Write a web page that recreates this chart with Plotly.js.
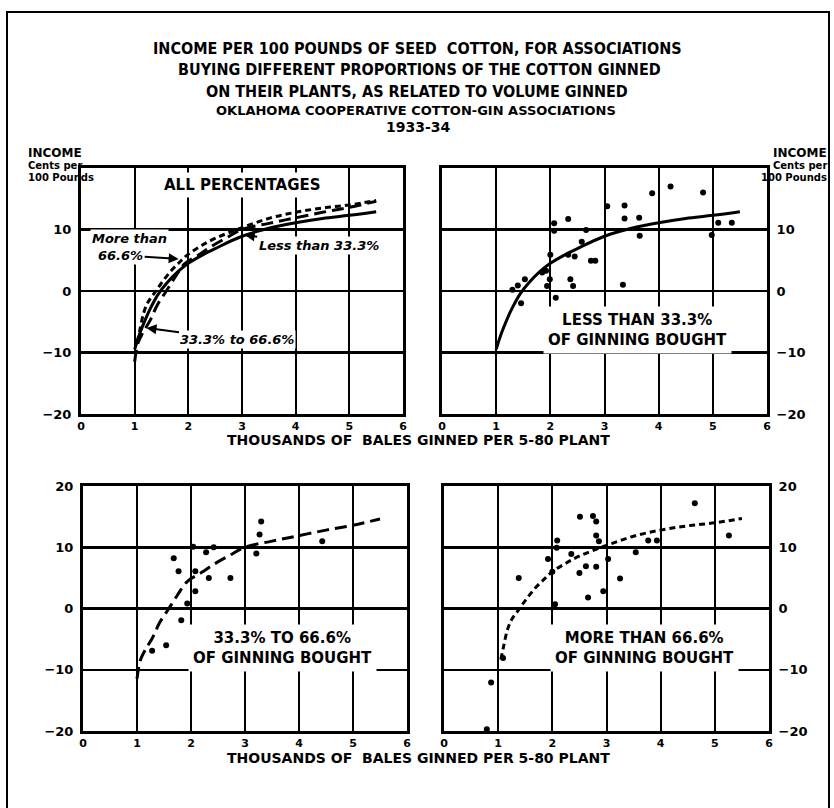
<!DOCTYPE html>
<html>
<head>
<meta charset="utf-8">
<script src="https://cdn.plot.ly/plotly-3.0.1.min.js"></script>
<style>html,body{margin:0;padding:0;background:#fff}#chart{width:834px;height:808px}</style>
</head>
<body>
<div id="chart"></div>
<script>
// ---- data ----
const xTicks = [0, 1, 2, 3, 4, 5, 6];
const yTicksTop = [-20, -10, 0, 10];
const yTicksBottom = [-20, -10, 0, 10, 20];

// Less than 33.3% of ginning bought (scatter)
const lessX = [4.22, 4.82, 3.88, 3.05, 3.37, 3.37, 3.64, 2.33, 2.07, 2.07, 2.66, 3.65, 4.98, 5.1, 5.35, 2.58, 2.0, 2.33, 2.45, 2.75, 2.83, 1.85, 1.92, 1.99, 2.37, 1.94, 2.42, 3.34, 1.40, 1.53, 1.46, 2.10, 1.3];
const lessY = [17.0, 16.0, 15.9, 13.8, 13.9, 11.8, 11.9, 11.7, 11.0, 9.8, 9.9, 9.0, 9.1, 11.1, 11.1, 8.0, 5.9, 5.9, 5.6, 4.9, 4.9, 3.0, 3.3, 1.9, 1.9, 0.8, 0.8, 1.0, 0.9, 1.9, -2.0, -1.1, 0.2];

// 33.3% to 66.6% (scatter)
const midX = [3.30, 3.27, 3.21, 4.43, 1.68, 1.77, 2.04, 2.28, 2.42, 2.08, 2.33, 2.73, 2.08, 1.93, 1.82, 1.54, 1.28];
const midY = [14.2, 12.1, 9.0, 11.0, 8.2, 6.1, 10.1, 9.2, 10.0, 6.1, 5.0, 5.0, 2.8, 0.8, -1.9, -6.0, -6.9];

// More than 66.6% (scatter)
const moreX = [4.63, 2.51, 2.75, 2.81, 2.81, 2.86, 2.09, 2.08, 2.35, 3.54, 3.77, 3.93, 5.26, 1.92, 2.0, 2.62, 2.81, 3.03, 2.50, 1.38, 3.25, 2.94, 2.66, 2.05, 1.09, 0.87, 0.79];
const moreY = [17.2, 15.0, 15.1, 14.2, 11.9, 11.0, 11.1, 9.9, 8.9, 9.2, 11.1, 11.1, 11.9, 8.1, 6.0, 6.9, 6.8, 8.1, 5.8, 5.0, 4.9, 2.8, 1.8, 0.7, -8.1, -12.1, -19.7];

// fitted curves
const lessCurveX = [1, 1.1, 1.2, 1.3, 1.44, 1.6, 1.8, 2, 2.25, 2.5, 3, 3.5, 4, 4.5, 5, 5.5];
const lessCurveY = [-9.5, -6.8, -4.6, -2.7, -0.5, 1.3, 3.1, 4.5, 5.8, 6.9, 8.9, 10.2, 11.1, 11.8, 12.3, 12.9];
const midCurveX = [1, 1.06, 1.15, 1.28, 1.42, 1.59, 1.75, 1.93, 2.2, 2.42, 2.7, 3, 3.5, 4, 4.5, 5, 5.5];
const midCurveY = [-11.5, -8.5, -6.8, -4.9, -2.3, 0, 2.2, 4.4, 5.9, 7.2, 8.6, 10.0, 11.0, 11.9, 12.8, 13.6, 14.6];
const moreCurveX = [1.05, 1.1, 1.17, 1.25, 1.37, 1.5, 1.68, 1.85, 2, 2.25, 2.51, 3, 3.5, 4, 4.5, 5, 5.5];
const moreCurveY = [-8.3, -6.2, -3.5, -1.8, -0.3, 1.3, 3.3, 4.8, 6.0, 7.4, 8.6, 10.3, 11.8, 12.8, 13.5, 14.0, 14.7];

// ---- layout helpers ----
const W = 834, H = 808;
const px = v => v / W;
const py = v => 1 - v / H;
const BOLD = 'DejaVu Sans';
const NARROW = 'DejaVu Sans Condensed, DejaVu Sans, sans-serif';

function xAxis(l, r, anchor) {
  return {
    domain: [px(l), px(r)], anchor: anchor, range: [0, 6], tickvals: xTicks,
    showgrid: true, gridcolor: '#000', gridwidth: 2, zeroline: false,
    showline: true, mirror: true, linecolor: '#000', linewidth: 3, ticks: '',
    ticklabelstandoff: 0,
    tickfont: {family: BOLD, size: 11, color: '#000', weight: 'bold'}, fixedrange: true
  };
}
function yAxis(t, b, anchor, side, vals) {
  return {
    domain: [py(b), py(t)], anchor: anchor, range: [-20, 20], tickvals: vals, side: side,
    showgrid: true, gridcolor: '#000', gridwidth: 2.5, zeroline: false,
    showline: true, mirror: true, linecolor: '#000', linewidth: 3, ticks: '',
    ticklabelstandoff: 4,
    tickfont: {family: BOLD, size: 13, color: '#000', weight: 'bold'}, fixedrange: true
  };
}

const solid = {color: '#000', width: 3, shape: 'spline', dash: 'solid'};
const longDash = {color: '#000', width: 3, shape: 'spline', dash: '12px,6px'};
const shortDash = {color: '#000', width: 3, shape: 'spline', dash: '6px,4px'};
const dots = {color: '#000', size: 6};

const traces = [
  // top-left: all percentages
  {x: lessCurveX, y: lessCurveY, xaxis: 'x', yaxis: 'y', mode: 'lines', line: solid},
  {x: midCurveX, y: midCurveY, xaxis: 'x', yaxis: 'y', mode: 'lines', line: longDash},
  {x: moreCurveX, y: moreCurveY, xaxis: 'x', yaxis: 'y', mode: 'lines', line: shortDash},
  // top-right: less than 33.3%
  {x: lessCurveX, y: lessCurveY, xaxis: 'x2', yaxis: 'y2', mode: 'lines', line: solid},
  {x: lessX, y: lessY, xaxis: 'x2', yaxis: 'y2', mode: 'markers', marker: dots},
  // bottom-left: 33.3% to 66.6%
  {x: midCurveX, y: midCurveY, xaxis: 'x3', yaxis: 'y3', mode: 'lines', line: longDash},
  {x: midX, y: midY, xaxis: 'x3', yaxis: 'y3', mode: 'markers', marker: dots},
  // bottom-right: more than 66.6%
  {x: moreCurveX, y: moreCurveY, xaxis: 'x4', yaxis: 'y4', mode: 'lines', line: shortDash},
  {x: moreX, y: moreY, xaxis: 'x4', yaxis: 'y4', mode: 'markers', marker: dots}
];

const tf = (size, fam) => ({family: fam || BOLD, size: size, color: '#000', weight: 'bold'});
const itf = {family: BOLD, size: 13, color: '#000', weight: 'bold', style: 'italic'};

function paperText(text, x, y, size, align, fam) {
  return {text: text, xref: 'paper', yref: 'paper', x: px(x), y: py(y), showarrow: false,
    xanchor: align || 'center', yanchor: 'middle', font: tf(size, fam)};
}

const annotations = [
  paperText('INCOME PER 100 POUNDS OF SEED\u00a0\u00a0COTTON, FOR ASSOCIATIONS', 417, 48, 16, 'center', NARROW),
  paperText('BUYING DIFFERENT PROPORTIONS OF THE COTTON GINNED', 419, 70, 16, 'center', NARROW),
  paperText('ON THEIR PLANTS, AS RELATED TO VOLUME GINNED', 417, 92, 16, 'center', NARROW),
  paperText('OKLAHOMA COOPERATIVE COTTON-GIN ASSOCIATIONS', 416, 110, 13),
  paperText('1933-34', 418, 127, 14),
  paperText('INCOME', 26, 153, 12, 'left'),
  paperText('Cents per', 26, 166, 10, 'left'),
  paperText('100 Pounds', 26, 178, 10, 'left'),
  paperText('INCOME', 829, 153, 12, 'right'),
  paperText('Cents per', 829, 166, 10, 'right'),
  paperText('100 Pounds', 829, 178, 10, 'right'),
  paperText('THOUSANDS OF\u00a0\u00a0BALES GINNED PER 5-80 PLANT', 418, 440, 14),
  paperText('THOUSANDS OF\u00a0\u00a0BALES GINNED PER 5-80 PLANT', 418, 758, 14),
  // panel labels
  {text: 'ALL PERCENTAGES', xref: 'x', yref: 'y', x: 3.0, y: 17.2, showarrow: false,
    font: tf(15), bgcolor: '#fff', borderpad: 3},
  {text: 'LESS THAN 33.3%<br>OF GINNING BOUGHT', xref: 'x2', yref: 'y2', x: 3.6, y: -6.3, showarrow: false,
    font: tf(15), bgcolor: '#fff', borderpad: 4},
  {text: '33.3% TO 66.6%<br>OF GINNING BOUGHT', xref: 'x3', yref: 'y3', x: 3.7, y: -6.4, showarrow: false,
    font: tf(15), bgcolor: '#fff', borderpad: 4},
  {text: 'MORE THAN 66.6%<br>OF GINNING BOUGHT', xref: 'x4', yref: 'y4', x: 3.71, y: -6.4, showarrow: false,
    font: tf(15), bgcolor: '#fff', borderpad: 4},
  // top-left curve labels
  {text: 'More than', xref: 'x', yref: 'y', x: 0.91, y: 8.6, showarrow: false, font: itf, bgcolor: '#fff', borderpad: 1},
  {text: '66.6%', xref: 'x', yref: 'y', x: 1.82, y: 5.2, ax: -58, ay: -4, showarrow: true,
    arrowhead: 2, arrowsize: 1, arrowwidth: 2, arrowcolor: '#000', font: itf, bgcolor: '#fff', borderpad: 1},
  {text: 'Less than 33.3%', xref: 'x', yref: 'y', x: 3.05, y: 9.1, ax: 74, ay: 10, showarrow: true,
    arrowhead: 2, arrowsize: 1, arrowwidth: 2, arrowcolor: '#000', font: itf, bgcolor: '#fff', borderpad: 1},
  {text: '33.3% to 66.6%', xref: 'x', yref: 'y', x: 1.22, y: -6.0, ax: 91, ay: 12, showarrow: true,
    arrowhead: 2, arrowsize: 1, arrowwidth: 2, arrowcolor: '#000', font: itf, bgcolor: '#fff', borderpad: 1}
];

const layout = {
  width: W, height: H, margin: {l: 0, r: 0, t: 0, b: 0},
  paper_bgcolor: '#fff', plot_bgcolor: '#fff', showlegend: false,
  xaxis: xAxis(81, 403, 'y'),
  yaxis: yAxis(168, 414, 'x', 'left', yTicksTop),
  xaxis2: xAxis(442, 767, 'y2'),
  yaxis2: yAxis(168, 414, 'x2', 'right', yTicksTop),
  xaxis3: xAxis(83, 407, 'y3'),
  yaxis3: yAxis(486, 731, 'x3', 'left', yTicksBottom),
  xaxis4: xAxis(444, 769, 'y4'),
  yaxis4: yAxis(486, 731, 'x4', 'right', yTicksBottom),
  annotations: annotations,
  shapes: [
    {type: 'rect', xref: 'paper', yref: 'paper', x0: px(7), x1: px(829), y0: -0.05, y1: py(12),
      line: {color: '#000', width: 2}, fillcolor: 'rgba(0,0,0,0)'}
  ]
};

Plotly.newPlot('chart', traces, layout, {displayModeBar: false, staticPlot: true});
</script>
</body>
</html>
